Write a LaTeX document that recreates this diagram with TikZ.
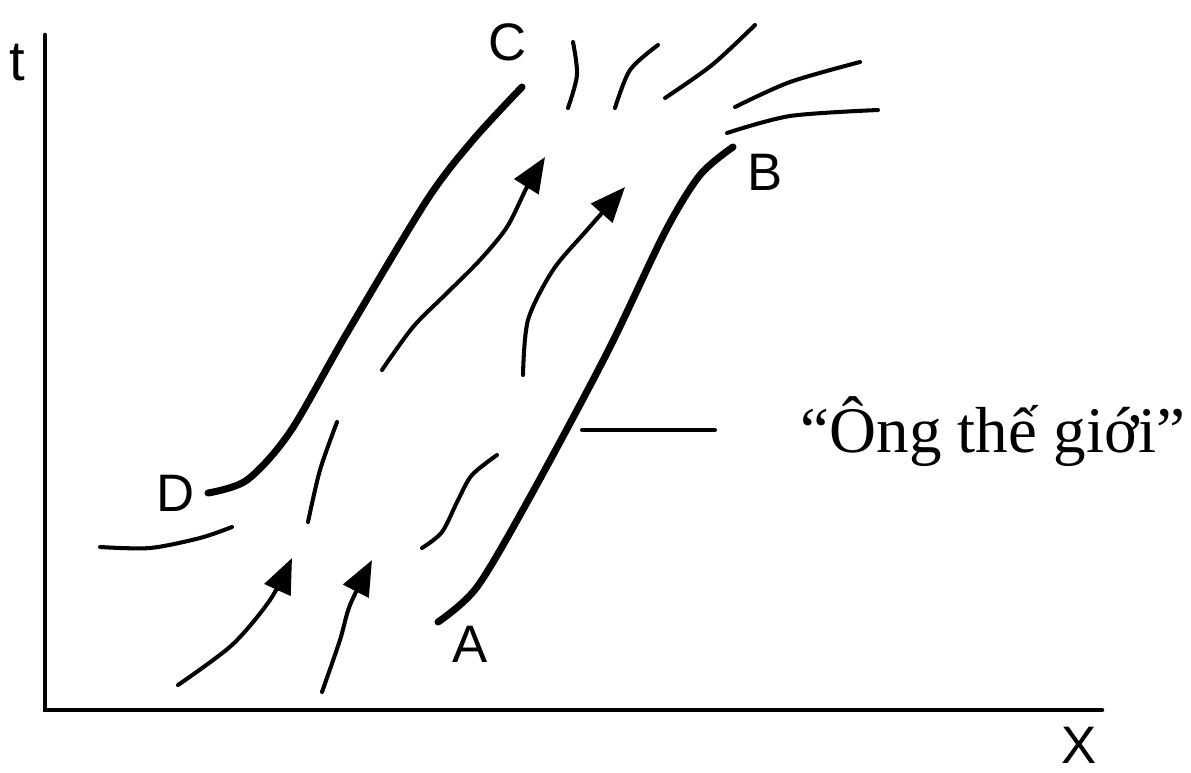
\documentclass[tikz,border=0pt]{standalone}
\usepackage{fontspec}
\setmainfont{Liberation Serif}
\newfontfamily\lettersf{Liberation Sans}
\usetikzlibrary{arrows.meta}

\begin{document}
\begin{tikzpicture}[x=0.01cm, y=-0.01cm, line cap=round,
    tube/.style={line width=2pt},
    thin/.style={line width=1.15pt},
    flow/.style={thin, -{Triangle[length=10pt, width=8pt]}},
    letter/.style={font=\lettersf\fontsize{15}{17}\selectfont, inner sep=0pt}]
  \useasboundingbox (0,0) rectangle (1191,772);
  % axes
  \draw[line width=1.3pt] (45,35) -- (45,710) -- (1102,710);
  \node[letter, font=\lettersf\fontsize{16}{18}\selectfont] (t) at (17,63) {t};
  \node[letter, font=\lettersf\fontsize{15}{17}\selectfont] (X) at (1079,745) {X};
  % world tube edges
  \draw[tube] plot[smooth] coordinates {(208,493) (247,480) (290,432) (347,333) (427,200) (473,140) (522,87)};
  \draw[tube] plot[smooth] coordinates {(438,622) (477,587) (530,497) (607,353) (665,232) (700,175) (733,147)};
  \node[letter] (C) at (508,42) {C};
  \node[letter] (D) at (176,493) {D};
  \node[letter] (A) at (470,644) {A};
  \node[letter] (B) at (765,172) {B};
  % thin strands
  \draw[thin] plot[smooth] coordinates {(100,547) (150,548) (200,538) (232,527)};
  \draw[thin] plot[smooth] coordinates {(308,522) (320,470) (337,422)};
  \draw[thin] plot[smooth] coordinates {(422,548) (442,532) (458,500) (472,475) (497,455)};
  \draw[thin] plot[smooth] coordinates {(573,42) (577,75) (568,108)};
  \draw[thin] plot[smooth] coordinates {(615,108) (630,70) (658,45)};
  \draw[thin] plot[smooth] coordinates {(665,98) (712,65) (755,25)};
  \draw[thin] plot[smooth] coordinates {(735,107) (790,82) (860,62)};
  \draw[thin] plot[smooth] coordinates {(727,133) (790,116) (878,110)};
  % flow arrows
  \draw[flow] plot[smooth] coordinates {(178,685) (232,645) (270,600) (292,558)};
  \draw[flow] plot[smooth] coordinates {(322,692) (340,640) (350,605) (372,560)};
  \draw[flow] plot[smooth] coordinates {(382,370) (413,327) (447,293) (480,260) (507,227) (527,187) (545,157)};
  \draw[flow] plot[smooth] coordinates {(523,375) (528,320) (553,270) (587,230) (625,187)};
  % label of the tube
  \coordinate (onTube) at (582,430);
  \node[font=\fontsize{18.5}{22}\selectfont, anchor=west, inner sep=0pt] (tubeLbl) at (800,432) {“Ông thế giới”};
  \draw[thin] (onTube) -- (715,430);
\end{tikzpicture}
\end{document}
